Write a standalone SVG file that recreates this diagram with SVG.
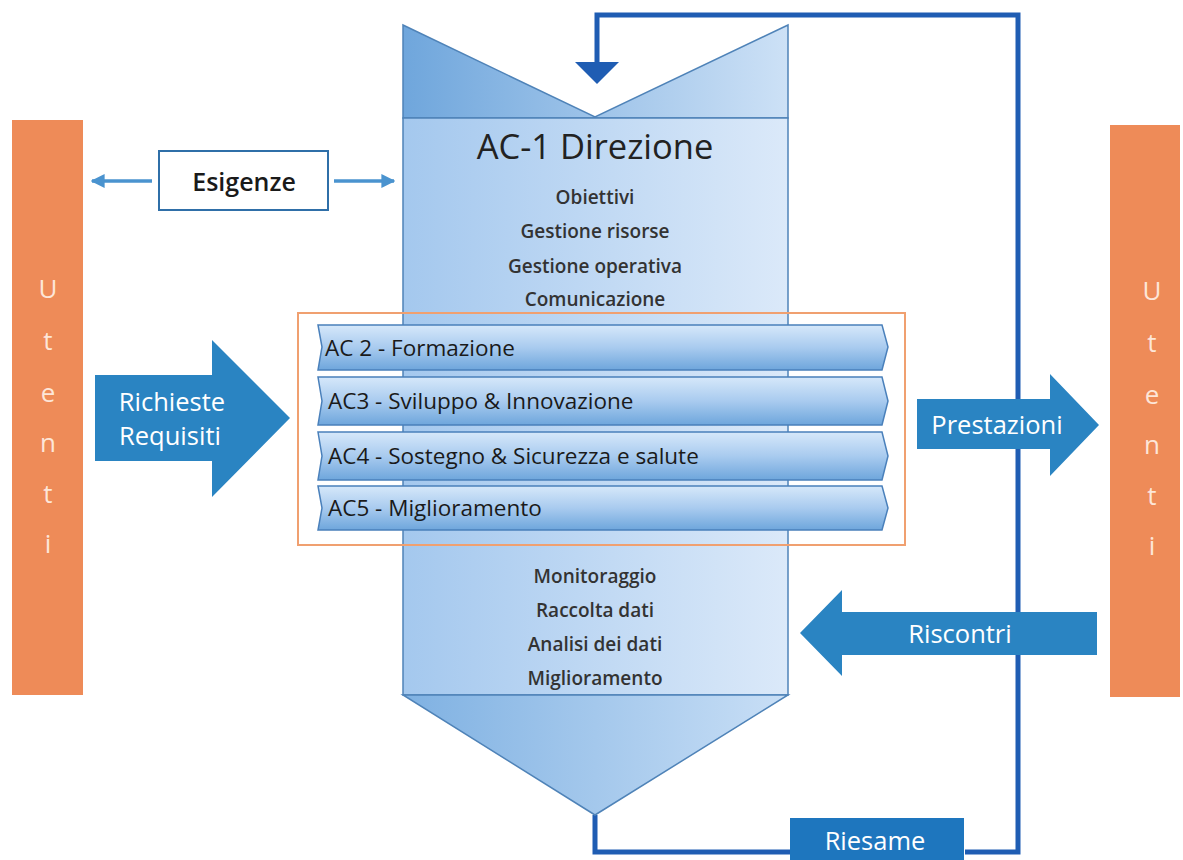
<svg xmlns="http://www.w3.org/2000/svg" width="1183" height="860" viewBox="0 0 1183 860">
<defs>
<linearGradient id="gTop" x1="0" y1="0" x2="1" y2="0">
<stop offset="0" stop-color="#6fa6dc"/><stop offset="1" stop-color="#cde1f6"/>
</linearGradient>
<linearGradient id="gBody" x1="0" y1="0" x2="1" y2="0">
<stop offset="0" stop-color="#a4c8ee"/><stop offset="1" stop-color="#dbe9f9"/>
</linearGradient>
<linearGradient id="gBot" x1="0" y1="0" x2="1" y2="0">
<stop offset="0" stop-color="#7fb1e2"/><stop offset="1" stop-color="#c9dff6"/>
</linearGradient>
<linearGradient id="gBar" x1="0" y1="0" x2="0" y2="1">
<stop offset="0" stop-color="#d6e8fa"/><stop offset="0.5" stop-color="#a9cbef"/><stop offset="1" stop-color="#6ea6dc"/>
</linearGradient>
<marker id="ah" viewBox="0 0 10 10" refX="9" refY="5" markerWidth="4" markerHeight="4" orient="auto-start-reverse">
<path d="M0,0 L10,5 L0,10 z" fill="#4a93cf"/>
</marker>
<style>
.bar{fill:url(#gBar);stroke:#4a80bb;stroke-width:1.5}
.col{stroke:#4f83b8;stroke-width:1.5}
.sub{font-family:"Open Sans","Liberation Sans",sans-serif;font-weight:600;font-size:19px;fill:#333;text-anchor:middle}
.ac{font-family:"Open Sans","Liberation Sans",sans-serif;font-size:22.5px;fill:#1a1a1a}
.wl{font-family:"Open Sans","Liberation Sans",sans-serif;font-size:25.5px;fill:#fff;text-anchor:middle}
.ut{font-family:"Open Sans","Liberation Sans",sans-serif;font-size:26px;fill:#fde6d8;text-anchor:middle}
.blue{fill:#2a84c2}
.loop{fill:none;stroke:#1f5db3;stroke-width:5}
.orange{fill:#ee8b58}
</style>
</defs>

<rect width="1183" height="860" fill="#fff"/>

<g id="connectors">
<path class="loop" d="M965,852 L1018,852 L1018,15 L597,15 L597,64"/>
<path d="M575,62 L619,62 L597,84 z" fill="#1f5db3"/>
<path class="loop" d="M595,815 L595,852 L792,852"/>
<line x1="152" y1="181" x2="92" y2="181" stroke="#4a93cf" stroke-width="3.5" marker-end="url(#ah)"/>
<line x1="334" y1="181" x2="394" y2="181" stroke="#4a93cf" stroke-width="3.5" marker-end="url(#ah)"/>
</g>

<g id="utenti-left">
<rect class="orange" x="12" y="120" width="71" height="575"/>
<text class="ut" x="48" y="298">U</text>
<text class="ut" x="48" y="350">t</text>
<text class="ut" x="48" y="402">e</text>
<text class="ut" x="48" y="452">n</text>
<text class="ut" x="48" y="503">t</text>
<text class="ut" x="48" y="553">i</text>
</g>

<g id="utenti-right">
<rect class="orange" x="1110" y="125" width="70" height="572"/>
<text class="ut" x="1152" y="300">U</text>
<text class="ut" x="1152" y="352">t</text>
<text class="ut" x="1152" y="404">e</text>
<text class="ut" x="1152" y="454">n</text>
<text class="ut" x="1152" y="505">t</text>
<text class="ut" x="1152" y="555">i</text>
</g>

<g id="esigenze">
<rect x="159" y="151" width="169" height="59" fill="#fff" stroke="#2f6fa8" stroke-width="2"/>
<text x="244" y="191" font-family="Open Sans, Liberation Sans, sans-serif" font-weight="600" font-size="25" fill="#1a1a1a" text-anchor="middle">Esigenze</text>
</g>

<g id="richieste">
<path class="blue" d="M95,375 L212,375 L212,340 L290,418 L212,497 L212,461 L95,461 z"/>
<text class="wl" x="172" y="411">Richieste</text>
<text class="wl" x="170" y="445">Requisiti</text>
</g>

<g id="prestazioni">
<path class="blue" d="M917,399 L1050,399 L1050,374 L1099,425 L1050,476 L1050,449 L917,449 z"/>
<text class="wl" x="997" y="434">Prestazioni</text>
</g>

<g id="riscontri">
<path class="blue" d="M1097,612 L842,612 L842,590 L800,633 L842,676 L842,655 L1097,655 z"/>
<text class="wl" x="960" y="643">Riscontri</text>
</g>

<g id="riesame">
<rect x="790" y="818" width="174" height="44" fill="#1e76be"/>
<text class="wl" x="875" y="850">Riesame</text>
</g>

<g id="direzione">
<path class="col" fill="url(#gTop)" d="M403,25 L595,117 L788,25 L788,118 L403,118 z"/>
<rect class="col" fill="url(#gBody)" x="403" y="118" width="385" height="577"/>
<path class="col" fill="url(#gBot)" d="M403,695 L788,695 L595,815 z"/>
<text x="595" y="159" font-family="Open Sans, Liberation Sans, sans-serif" font-size="34.5" fill="#222" text-anchor="middle">AC-1 Direzione</text>
<text class="sub" x="595" y="204">Obiettivi</text>
<text class="sub" x="595" y="238">Gestione risorse</text>
<text class="sub" x="595" y="273">Gestione operativa</text>
<text class="sub" x="595" y="306">Comunicazione</text>
<text class="sub" x="595" y="583">Monitoraggio</text>
<text class="sub" x="595" y="617">Raccolta dati</text>
<text class="sub" x="595" y="651">Analisi dei dati</text>
<text class="sub" x="595" y="685">Miglioramento</text>
</g>

<g id="frame">
<rect x="298" y="313" width="607" height="232" fill="none" stroke="#f0a070" stroke-width="2"/>
</g>

<g id="ac2">
<path class="bar" d="M318,325 L882,325 L888,347 L882,370 L318,370 L322,347 z"/>
<text class="ac" x="325" y="356">AC 2 - Formazione</text>
</g>
<g id="ac3">
<path class="bar" d="M318,377 L882,377 L888,401 L882,425 L318,425 L322,401 z"/>
<text class="ac" x="328" y="409">AC3 - Sviluppo &amp; Innovazione</text>
</g>
<g id="ac4">
<path class="bar" d="M318,432 L882,432 L888,456 L882,480 L318,480 L322,456 z"/>
<text class="ac" x="328" y="464">AC4 - Sostegno &amp; Sicurezza e salute</text>
</g>
<g id="ac5">
<path class="bar" d="M318,486 L882,486 L888,508 L882,530 L318,530 L322,508 z"/>
<text class="ac" x="328" y="516">AC5 - Miglioramento</text>
</g>
</svg>
